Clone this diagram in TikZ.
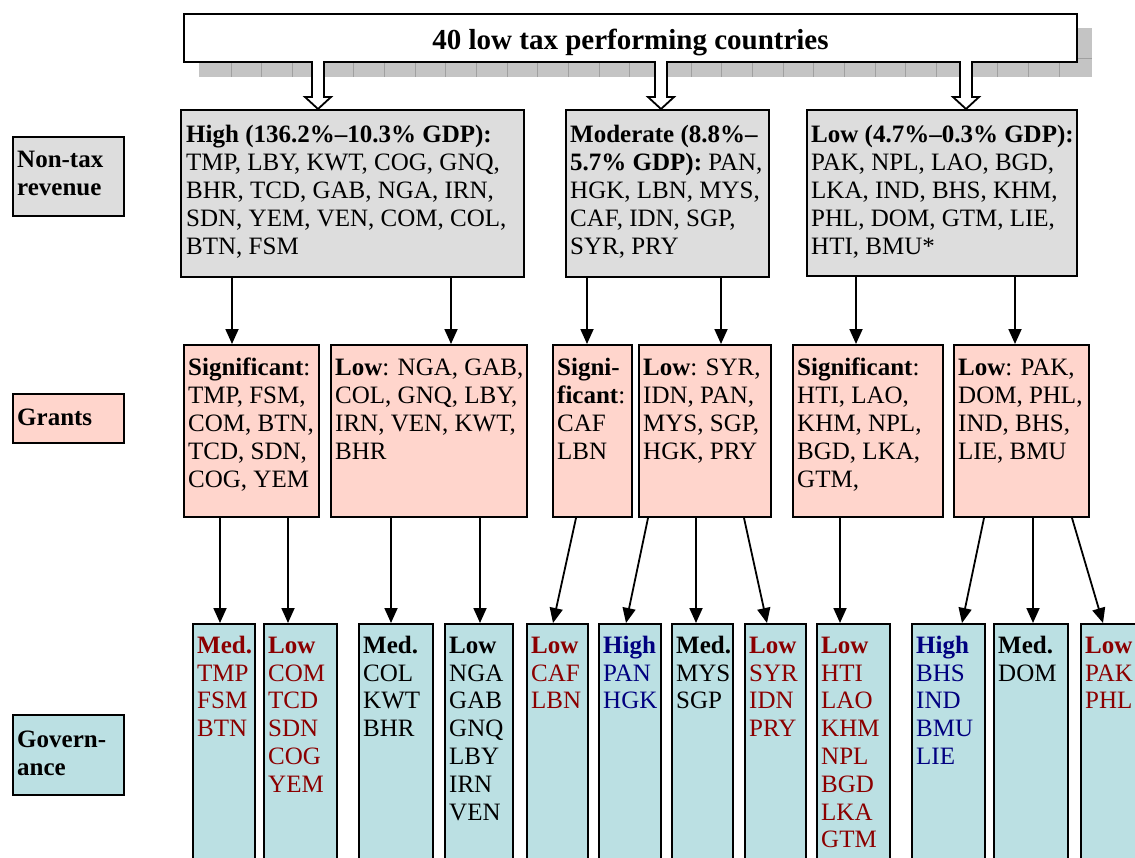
\documentclass[tikz,border=0pt]{standalone}
\usepackage{fontspec}
\setmainfont{Liberation Serif}
\usetikzlibrary{arrows.meta,calc}
\definecolor{greyfill}{HTML}{DDDDDD}
\definecolor{pinkfill}{HTML}{FFD5CC}
\definecolor{cyanfill}{HTML}{BBE0E3}
\definecolor{darkred}{HTML}{8B0000}
\definecolor{navyblue}{HTML}{000080}
\definecolor{shadowfill}{HTML}{C4C4C4}
\definecolor{shadowline}{HTML}{A0A0A0}
\newcommand{\mystrut}{\rule{0pt}{22pt}}
\begin{document}
\begin{tikzpicture}[x=1pt,y=-1pt,
  box/.style={draw=black, line width=2pt, rectangle, inner sep=0pt, anchor=north west},
  gbox/.style={box, fill=greyfill},
  pbox/.style={box, fill=pinkfill},
  cbox/.style={box, fill=cyanfill},
  txt/.style={anchor=north west, inner sep=0pt, align=left, font=\fontsize{25}{28}\selectfont},
  ctxt/.style={txt, font=\fontsize{25}{27.8}\selectfont},
  arr/.style={line width=1.8pt, -{Triangle[length=15pt,width=13pt]}},
  hollow/.style={draw=black, line width=1.8pt, fill=white, line join=miter},
]
\useasboundingbox (0,0) rectangle (1135,857);

% shadow of title box
\fill[shadowfill] (199,28) rectangle (1092,77);
\foreach \k in {1,...,28} {\draw[shadowline, line width=0.8pt] ({231+30.67*(\k-1)},28) -- ++(0,49);}
\draw[shadowline, line width=0.8pt] (199,58) -- (1092,58);

% title box
\node[box, fill=white, minimum width=893, minimum height=48] (top) at (183,13) {};
\node[anchor=base, inner sep=0pt, font=\fontsize{29}{34}\selectfont\bfseries] (titletext) at ($(top.south)+(0,-14)$) {40 low tax performing countries};

% row labels
\node[gbox, minimum width=111, minimum height=79] (lab1) at (12,136) {};
\node[txt, font=\fontsize{25}{28}\selectfont\bfseries] (lab1t) at ($(lab1.north west)+(5,9)$) {\mystrut Non-tax\\revenue};
\node[pbox, minimum width=111, minimum height=49] (lab2) at (12,393) {};
\node[txt, font=\fontsize{25}{28}\selectfont\bfseries] (lab2t) at ($(lab2.north west)+(5,10)$) {\mystrut Grants};
\node[cbox, minimum width=111, minimum height=80] (lab3) at (12,714) {};
\node[txt, font=\fontsize{25}{28}\selectfont\bfseries] (lab3t) at ($(lab3.north west)+(5,11)$) {\mystrut Govern-\\ance};

% non-tax revenue boxes
\node[gbox, minimum width=343, minimum height=167] (g1) at (180,109) {};
\node[txt] (g1t) at ($(g1.north west)+(6,11)$) {\mystrut\textbf{High (136.2\%–10.3\% GDP):}\\TMP, LBY, KWT, COG, GNQ,\\BHR, TCD, GAB, NGA, IRN,\\SDN, YEM, VEN, COM, COL,\\BTN, FSM};
\node[gbox, minimum width=203, minimum height=167] (g2) at (565,109) {};
\node[txt] (g2t) at ($(g2.north west)+(5,11)$) {\mystrut\textbf{Moderate (8.8\%–}\\\textbf{5.7\% GDP):} PAN,\\HGK, LBN, MYS,\\CAF, IDN, SGP,\\SYR, PRY};
\node[gbox, minimum width=270, minimum height=166] (g3) at (806,109) {};
\node[txt] (g3t) at ($(g3.north west)+(5,11)$) {\mystrut\textbf{Low (4.7\%–0.3\% GDP):}\\PAK, NPL, LAO, BGD,\\LKA, IND, BHS, KHM,\\PHL, DOM, GTM, LIE,\\HTI, BMU*};

% hollow arrows
\coordinate (h1s) at (318,61); \coordinate (h1e) at (318,109);
\coordinate (h2s) at (661,61); \coordinate (h2e) at (661,109);
\coordinate (h3s) at (966,61); \coordinate (h3e) at (966,109);
\foreach \h in {1,2,3} {
  \draw[hollow] ($(h\h s)+(-6,0)$) -- ($(h\h e)+(-6,-12)$) -- ($(h\h e)+(-13,-12)$) -- (h\h e) -- ($(h\h e)+(13,-12)$) -- ($(h\h e)+(6,-12)$) -- ($(h\h s)+(6,0)$);
}

% grants boxes
\node[pbox, minimum width=135, minimum height=172] (p1) at (183,344) {};
\node[txt] (p1t) at ($(p1.north west)+(5,9)$) {\mystrut\textbf{Significant}:\\TMP, FSM,\\COM, BTN,\\TCD, SDN,\\COG, YEM};
\node[pbox, minimum width=196, minimum height=172] (p2) at (330,344) {};
\node[txt] (p2t) at ($(p2.north west)+(5,9)$) {\mystrut\textbf{Low}: NGA, GAB,\\COL, GNQ, LBY,\\IRN, VEN, KWT,\\BHR};
\node[pbox, minimum width=79, minimum height=172] (p3) at (552,344) {};
\node[txt] (p3t) at ($(p3.north west)+(5,9)$) {\mystrut\textbf{Signi-}\\\textbf{ficant}:\\CAF\\LBN};
\node[pbox, minimum width=132, minimum height=172] (p4) at (638,344) {};
\node[txt] (p4t) at ($(p4.north west)+(5,9)$) {\mystrut\textbf{Low}: SYR,\\IDN, PAN,\\MYS, SGP,\\HGK, PRY};
\node[pbox, minimum width=150, minimum height=172] (p5) at (792,344) {};
\node[txt] (p5t) at ($(p5.north west)+(5,9)$) {\mystrut\textbf{Significant}:\\HTI, LAO,\\KHM, NPL,\\BGD, LKA,\\GTM,};
\node[pbox, minimum width=135, minimum height=172] (p6) at (953,344) {};
\node[txt] (p6t) at ($(p6.north west)+(5,9)$) {\mystrut\textbf{Low}: PAK,\\DOM, PHL,\\IND, BHS,\\LIE, BMU};

% governance boxes
\node[cbox, minimum width=62, minimum height=250] (c1) at (192,623) {};
\node[ctxt, text=darkred] (c1t) at ($(c1.north west)+(5,8)$) {\mystrut\textbf{Med.}\\TMP\\FSM\\BTN};
\node[cbox, minimum width=73, minimum height=250] (c2) at (263,623) {};
\node[ctxt, text=darkred] (c2t) at ($(c2.north west)+(5,8)$) {\mystrut\textbf{Low}\\COM\\TCD\\SDN\\COG\\YEM};
\node[cbox, minimum width=74, minimum height=250] (c3) at (358,623) {};
\node[ctxt] (c3t) at ($(c3.north west)+(5,8)$) {\mystrut\textbf{Med.}\\COL\\KWT\\BHR};
\node[cbox, minimum width=68, minimum height=250] (c4) at (444,623) {};
\node[ctxt] (c4t) at ($(c4.north west)+(5,8)$) {\mystrut\textbf{Low}\\NGA\\GAB\\GNQ\\LBY\\IRN\\VEN};
\node[cbox, minimum width=61, minimum height=250] (c5) at (526,623) {};
\node[ctxt, text=darkred] (c5t) at ($(c5.north west)+(5,8)$) {\mystrut\textbf{Low}\\CAF\\LBN};
\node[cbox, minimum width=62, minimum height=250] (c6) at (598,623) {};
\node[ctxt, text=navyblue] (c6t) at ($(c6.north west)+(5,8)$) {\mystrut\textbf{High}\\PAN\\HGK};
\node[cbox, minimum width=61, minimum height=250] (c7) at (671,623) {};
\node[ctxt] (c7t) at ($(c7.north west)+(5,8)$) {\mystrut\textbf{Med.}\\MYS\\SGP};
\node[cbox, minimum width=61, minimum height=250] (c8) at (744,623) {};
\node[ctxt, text=darkred] (c8t) at ($(c8.north west)+(5,8)$) {\mystrut\textbf{Low}\\SYR\\IDN\\PRY};
\node[cbox, minimum width=73, minimum height=250] (c9) at (816,623) {};
\node[ctxt, text=darkred] (c9t) at ($(c9.north west)+(5,8)$) {\mystrut\textbf{Low}\\HTI\\LAO\\KHM\\NPL\\BGD\\LKA\\GTM};
\node[cbox, minimum width=73, minimum height=250] (c10) at (911,623) {};
\node[ctxt, text=navyblue] (c10t) at ($(c10.north west)+(5,8)$) {\mystrut\textbf{High}\\BHS\\IND\\BMU\\LIE};
\node[cbox, minimum width=74, minimum height=250] (c11) at (993,623) {};
\node[ctxt] (c11t) at ($(c11.north west)+(5,8)$) {\mystrut\textbf{Med.}\\DOM};
\node[cbox, minimum width=70, minimum height=250] (c12) at (1080,623) {};
\node[ctxt, text=darkred] (c12t) at ($(c12.north west)+(5,8)$) {\mystrut\textbf{Low}\\PAK\\PHL};

% non-tax -> grants
\draw[arr] ([xshift=52pt]g1.south west) -- ([xshift=49pt]p1.north west);
\draw[arr] ([xshift=271pt]g1.south west) -- ([xshift=121pt]p2.north west);
\draw[arr] ([xshift=22pt]g2.south west) -- ([xshift=35pt]p3.north west);
\draw[arr] ([xshift=156pt]g2.south west) -- ([xshift=83pt]p4.north west);
\draw[arr] ([xshift=50pt]g3.south west) -- ([xshift=64pt]p5.north west);
\draw[arr] ([xshift=209pt]g3.south west) -- ([xshift=62pt]p6.north west);

% grants -> governance
\draw[arr] ([xshift=37pt]p1.south west) -- ([xshift=28pt]c1.north west);
\draw[arr] ([xshift=105pt]p1.south west) -- ([xshift=25pt]c2.north west);
\draw[arr] ([xshift=61pt]p2.south west) -- ([xshift=33pt]c3.north west);
\draw[arr] ([xshift=150pt]p2.south west) -- ([xshift=36pt]c4.north west);
\draw[arr] ([xshift=24pt]p3.south west) -- ([xshift=27pt]c5.north west);
\draw[arr] ([xshift=10pt]p4.south west) -- ([xshift=28pt]c6.north west);
\draw[arr] ([xshift=58pt]p4.south west) -- ([xshift=25pt]c7.north west);
\draw[arr] ([xshift=106pt]p4.south west) -- ([xshift=23pt]c8.north west);
\draw[arr] ([xshift=48pt]p5.south west) -- ([xshift=24pt]c9.north west);
\draw[arr] ([xshift=31pt]p6.south west) -- ([xshift=51pt]c10.north west);
\draw[arr] ([xshift=80pt]p6.south west) -- ([xshift=40pt]c11.north west);
\draw[arr] ([xshift=119pt]p6.south west) -- ([xshift=23pt]c12.north west);
\end{tikzpicture}
\end{document}
